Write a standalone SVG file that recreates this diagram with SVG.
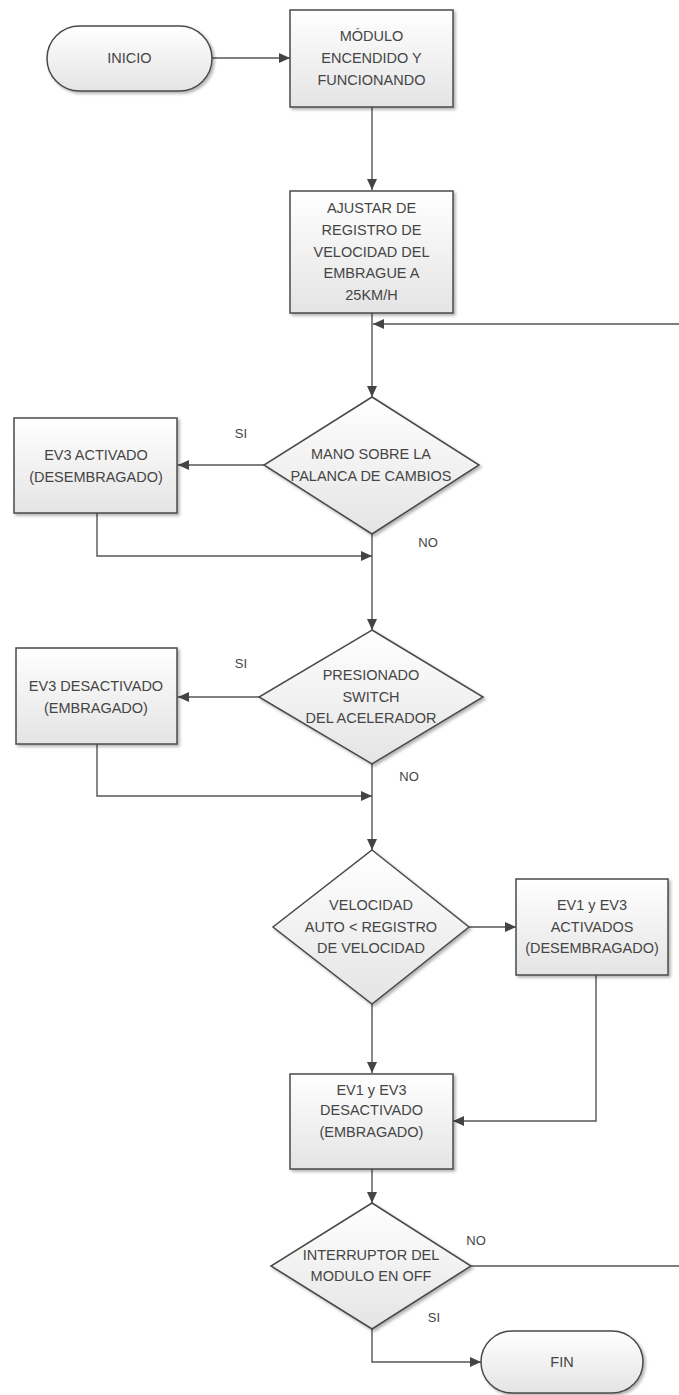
<svg xmlns="http://www.w3.org/2000/svg" width="679" height="1395" viewBox="0 0 679 1395">
<style>
.shape{fill:url(#g);stroke:#4a4a4a;stroke-width:1.5;filter:url(#sh)}
.t{font-family:"Liberation Sans",Arial,sans-serif;font-size:14.5px;fill:#454545;text-anchor:middle}
.lb{font-family:"Liberation Sans",Arial,sans-serif;font-size:13px;fill:#454545;text-anchor:middle}
.c{fill:none;stroke:#555;stroke-width:1.4;marker-end:url(#ah)}
.cn{fill:none;stroke:#555;stroke-width:1.4}
</style>
<defs>
<linearGradient id="g" x1="0" y1="0" x2="0" y2="1">
<stop offset="0" stop-color="#ffffff"/>
<stop offset="1" stop-color="#e4e4e4"/>
</linearGradient>
<filter id="sh" x="-10%" y="-10%" width="130%" height="130%">
<feDropShadow dx="2" dy="2" stdDeviation="1.5" flood-color="#000" flood-opacity="0.3"/>
</filter>
<marker id="ah" markerUnits="userSpaceOnUse" markerWidth="12" markerHeight="10" refX="11" refY="5" orient="auto">
<path d="M0,0 L11,5 L0,10 z" fill="#444"/>
</marker>
</defs>
<rect width="679" height="1395" fill="#fff"/>
<g id="connectors">
<path class="c" d="M212,58 H290"/>
<path class="c" d="M372,107 V190"/>
<path class="c" d="M372,313 V397"/>
<path class="c" d="M679,324 H373"/>
<path class="c" d="M264,465 H178"/>
<path class="c" d="M97,513 V556 H372"/>
<path class="c" d="M372,534 V630"/>
<path class="c" d="M259,697 H178"/>
<path class="c" d="M97,744 V796 H372"/>
<path class="c" d="M372,764 V850"/>
<path class="c" d="M469,927 H516"/>
<path class="c" d="M596,975 V1121 H453"/>
<path class="c" d="M372,1004 V1073"/>
<path class="c" d="M372,1169 V1203"/>
<path class="cn" d="M471,1266 H679"/>
<path class="c" d="M372,1329 V1362 H481"/>
<text class="lb" x="241" y="438">SI</text>
<text class="lb" x="428" y="547">NO</text>
<text class="lb" x="241" y="668">SI</text>
<text class="lb" x="409" y="781">NO</text>
<text class="lb" x="476" y="1245">NO</text>
<text class="lb" x="434" y="1322">SI</text>
</g>
<g id="inicio">
<rect class="shape" x="47" y="26" width="165" height="65" rx="32.5"/>
<text class="t" x="129.5" y="63">INICIO</text>
</g>
<g id="modulo">
<rect class="shape" x="290" y="10" width="163" height="97"/>
<text class="t" x="371.5" y="41">MÓDULO</text>
<text class="t" x="371.5" y="63">ENCENDIDO Y</text>
<text class="t" x="371.5" y="85">FUNCIONANDO</text>
</g>
<g id="ajustar">
<rect class="shape" x="290" y="191" width="163" height="122"/>
<text class="t" x="371.5" y="213">AJUSTAR DE</text>
<text class="t" x="371.5" y="235">REGISTRO DE</text>
<text class="t" x="371.5" y="257">VELOCIDAD DEL</text>
<text class="t" x="371.5" y="278">EMBRAGUE A</text>
<text class="t" x="371.5" y="300">25KM/H</text>
</g>
<g id="d1">
<polygon class="shape" points="372,397 479,465 372,534 264,465"/>
<text class="t" x="371" y="459">MANO SOBRE LA</text>
<text class="t" x="371" y="481">PALANCA DE CAMBIOS</text>
</g>
<g id="ev3act">
<rect class="shape" x="14" y="418" width="163" height="95"/>
<text class="t" x="96" y="460">EV3 ACTIVADO</text>
<text class="t" x="96" y="482">(DESEMBRAGADO)</text>
</g>
<g id="d2">
<polygon class="shape" points="372,630 483,697 372,764 259,697"/>
<text class="t" x="371" y="680">PRESIONADO</text>
<text class="t" x="371" y="702">SWITCH</text>
<text class="t" x="371" y="723">DEL ACELERADOR</text>
</g>
<g id="ev3des">
<rect class="shape" x="16" y="648" width="161" height="96"/>
<text class="t" x="96" y="691">EV3 DESACTIVADO</text>
<text class="t" x="96" y="713">(EMBRAGADO)</text>
</g>
<g id="d3">
<polygon class="shape" points="372,850 469,927 372,1004 273,927"/>
<text class="t" x="371" y="910">VELOCIDAD</text>
<text class="t" x="371" y="932">AUTO &lt; REGISTRO</text>
<text class="t" x="371" y="953">DE VELOCIDAD</text>
</g>
<g id="ev13act">
<rect class="shape" x="516" y="879" width="152" height="96"/>
<text class="t" x="592" y="910">EV1 y EV3</text>
<text class="t" x="592" y="932">ACTIVADOS</text>
<text class="t" x="592" y="953">(DESEMBRAGADO)</text>
</g>
<g id="ev13des">
<rect class="shape" x="290" y="1074" width="163" height="95"/>
<text class="t" x="371.5" y="1095">EV1 y EV3</text>
<text class="t" x="371.5" y="1115">DESACTIVADO</text>
<text class="t" x="371.5" y="1137">(EMBRAGADO)</text>
</g>
<g id="d4">
<polygon class="shape" points="372,1203 471,1266 372,1329 271,1266"/>
<text class="t" x="371" y="1260">INTERRUPTOR DEL</text>
<text class="t" x="371" y="1281">MODULO EN OFF</text>
</g>
<g id="fin">
<rect class="shape" x="481" y="1331" width="162" height="62" rx="31"/>
<text class="t" x="562" y="1367">FIN</text>
</g>
</svg>
